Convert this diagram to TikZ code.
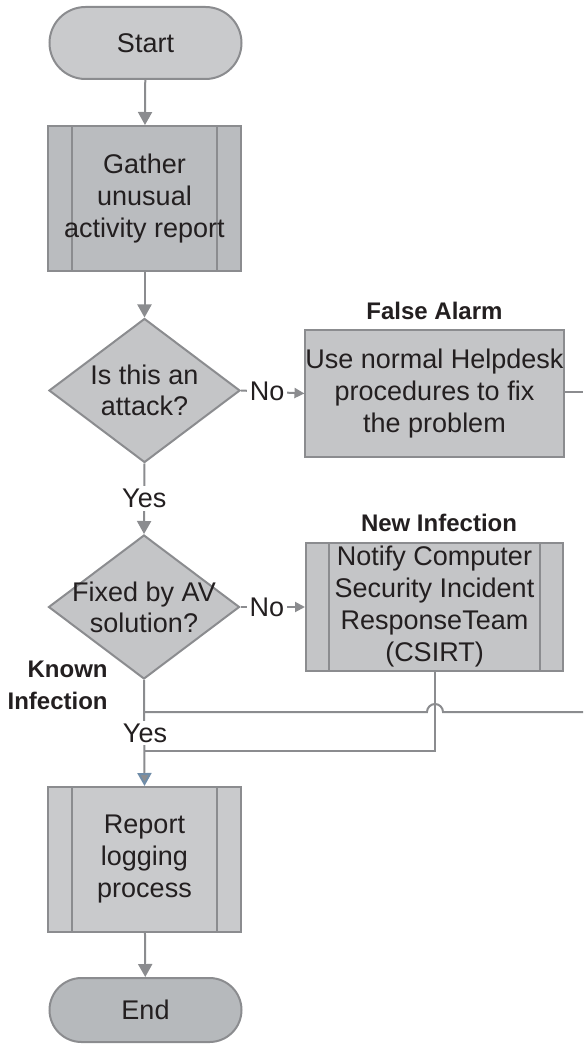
\documentclass[tikz,border=0pt]{standalone}
\usepackage{fontspec}
\setmainfont{Liberation Sans}
\usetikzlibrary{arrows.meta,shapes.geometric}

\definecolor{edgegray}{HTML}{8B8C8F}
\definecolor{inkc}{HTML}{231F20}
\definecolor{fillA}{HTML}{C9CACC}
\definecolor{fillB}{HTML}{BABCBF}
\definecolor{fillC}{HTML}{C4C5C7}
\definecolor{fillD}{HTML}{B6B9BC}
\definecolor{tipblue}{HTML}{6F8CA8}

\tikzset{
  base/.style={draw=edgegray, line width=1pt, text=inkc, inner sep=0pt,
    font=\fontsize{13.5}{16}\selectfont, align=center},
  terminal/.style={base, rectangle, rounded corners=#1, minimum width=96pt},
  procbox/.style={base, rectangle, minimum width=128.5pt, minimum height=63.5pt},
  subproc/.style={base, rectangle, minimum width=96.5pt, minimum height=72.5pt,
    path picture={
      \draw[edgegray, line width=1pt]
        ([xshift=#1]path picture bounding box.north west) --
        ([xshift=#1]path picture bounding box.south west)
        ([xshift=-#1]path picture bounding box.north east) --
        ([xshift=-#1]path picture bounding box.south east);}},
  decision/.style={base, diamond, minimum width=95.5pt, minimum height=72pt, fill=fillC},
  dtext/.style={text=inkc, font=\fontsize{13.5}{15.5}\selectfont, align=center, inner sep=0pt},
  tag/.style={text=inkc, font=\fontsize{12}{16}\bfseries\selectfont, inner sep=0pt},
  conn/.style={draw=edgegray, line width=1pt},
  flow/.style={conn, -{Triangle[width=7pt,length=6.5pt]}},
  small/.style={conn, -{Triangle[width=5pt,length=5pt]}},
  lbl/.style={fill=white, text=inkc, font=\fontsize{13.5}{16}\selectfont, inner sep=1.5pt},
}

\begin{document}
\begin{tikzpicture}[x=0.5pt, y=-0.5pt]
\useasboundingbox (0,0) rectangle (583,1047);

% main column
\node[terminal=18pt, minimum height=36pt, fill=fillA] (start) at (145.5,43) {Start};
\node[subproc=12pt, fill=fillB] (gather) at (144.5,198.5) {Gather\\unusual\\activity report};
\node[decision, label={[dtext]center:Is this an\\attack?}] (attack) at (144.5,390.5) {};
\node[decision, label={[dtext]center:Fixed by AV\\solution?}] (avfix) at (144,607) {};
\node[subproc=12pt, fill=fillA] (report) at (144.5,859.5) {Report\\logging\\process};
\node[terminal=16pt, minimum height=32pt, fill=fillD] (finish) at (145.5,1010) {End};

% side branches
\node[procbox, fill=fillC] (helpdesk) at (434.5,393.5)
  {Use normal Helpdesk\\procedures to fix\\the problem};
\node[subproc=11.5pt, minimum width=128.5pt, minimum height=64pt, fill=fillC] (csirt) at (434.5,607)
  {Notify Computer\\Security Incident\\ResponseTeam\\(CSIRT)};

% headings
\node[tag] (falsealarm) at (434.5,311) {False Alarm};
\node[tag] (newinf) at (439,523) {New Infection};
\node[tag, align=right, anchor=east] (known) at (108,685) {Known\\Infection};

% junction points
\coordinate (exitA) at (583,392);
\coordinate (exitB) at (583,712);
\coordinate (hopR) at (443,712);
\coordinate (joinA) at (145,712);
\coordinate (joinB) at (145,751);
\coordinate (turn) at (435,751);

% connectors
\draw[flow] (start) -- (gather);
\draw[flow] (gather) -- (attack);
\draw[small] (attack.east) -- node[lbl, pos=0.41] (no1) {No} (helpdesk.west);
\draw[flow] (attack.south) -- node[lbl] (yes1) {Yes} (avfix.north);
\draw[small] (avfix.east) -- node[lbl, pos=0.41] (no2) {No} (csirt.west);
\draw[conn] (helpdesk.east |- exitA) -- (exitA);

\draw[conn] (exitB) -- (hopR) arc[start angle=0, end angle=180, radius=4pt] -- (joinA);
\draw[conn] (csirt.south -| turn) -- (turn) -- (joinB);
\draw[conn, -{Triangle[width=7pt,length=6.5pt,color=tipblue,fill=edgegray]}] (avfix.south) -- (report.north);
\node[lbl] (yes2) at (145,733) {Yes};

\draw[flow] (report) -- (finish);
\end{tikzpicture}
\end{document}
